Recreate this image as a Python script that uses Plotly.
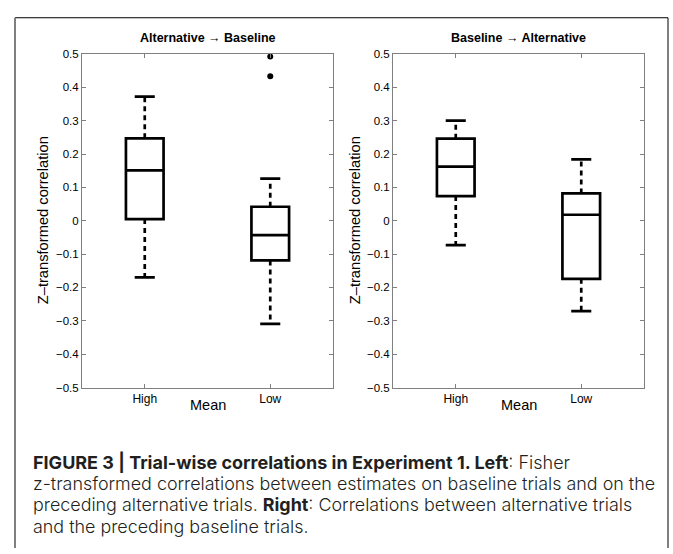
import plotly.graph_objects as go

# ---- data ----
categories = ["High", "Low"]
cat_pos = [1, 2]

left_title = "Alternative → Baseline"
left_lower = [-0.170, -0.309]
left_q1 = [0.005, -0.119]
left_median = [0.151, -0.043]
left_q3 = [0.247, 0.042]
left_upper = [0.372, 0.126]
left_outlier_cat = [2, 2]
left_outlier_val = [0.492, 0.433]

right_title = "Baseline → Alternative"
right_lower = [-0.073, -0.271]
right_q1 = [0.074, -0.174]
right_median = [0.162, 0.018]
right_q3 = [0.246, 0.082]
right_upper = [0.300, 0.184]
right_outlier_cat = []
right_outlier_val = []

y_ticks = [-0.5, -0.4, -0.3, -0.2, -0.1, 0, 0.1, 0.2, 0.3, 0.4, 0.5]
y_title = "Z–transformed correlation"
x_title = "Mean"

caption_lines = [
    "<b>FIGURE 3 | Trial-wise correlations in Experiment 1. Left</b>: Fisher",
    "z-transformed correlations between estimates on baseline trials and on the",
    "preceding alternative trials. <b>Right</b>: Correlations between alternative trials",
    "and the preceding baseline trials.",
]

# ---- layout constants ----
W, H = 673, 554
BOX_W = 0.30
CAP_HALF = 0.08
FONT = "Liberation Sans, Arial, Helvetica, sans-serif"
CAP_FONT = "Inter, Liberation Sans, sans-serif"


def px(x):
    return x / W


def py(y):
    return 1 - y / H


fig = go.Figure()


def add_panel(xa, ya, lower, q1, med, q3, upper, ocat, oval):
    fig.add_trace(go.Box(
        x=cat_pos, q1=q1, median=med, q3=q3,
        lowerfence=q1, upperfence=q3,
        width=BOX_W, whiskerwidth=0, boxpoints=False,
        line=dict(color="black", width=2.7), fillcolor="rgba(255,255,255,0)",
        xaxis=xa, yaxis=ya, showlegend=False, hoverinfo="skip",
    ))
    wx, wy, cx, cy = [], [], [], []
    for i, c in enumerate(cat_pos):
        wx += [c, c, None, c, c, None]
        wy += [q3[i], upper[i], None, q1[i], lower[i], None]
        cx += [c - CAP_HALF, c + CAP_HALF, None, c - CAP_HALF, c + CAP_HALF, None]
        cy += [upper[i], upper[i], None, lower[i], lower[i], None]
    fig.add_trace(go.Scatter(x=wx, y=wy, mode="lines", xaxis=xa, yaxis=ya,
                             line=dict(color="black", width=2.7, dash="5px,4px"),
                             showlegend=False, hoverinfo="skip"))
    fig.add_trace(go.Scatter(x=cx, y=cy, mode="lines", xaxis=xa, yaxis=ya,
                             line=dict(color="black", width=2.7),
                             showlegend=False, hoverinfo="skip"))
    if ocat:
        fig.add_trace(go.Scatter(x=ocat, y=oval, mode="markers", xaxis=xa, yaxis=ya,
                                 marker=dict(color="black", size=6),
                                 showlegend=False, hoverinfo="skip"))


add_panel("x", "y", left_lower, left_q1, left_median, left_q3, left_upper,
          left_outlier_cat, left_outlier_val)
add_panel("x2", "y2", right_lower, right_q1, right_median, right_q3, right_upper,
          right_outlier_cat, right_outlier_val)

ydom = [py(390), py(49)]
xdom1 = [px(82), px(333)]
xdom2 = [px(393), px(644)]

axis_common = dict(showgrid=False, zeroline=False, showline=True, linecolor="#7f7f7f",
                   linewidth=1, mirror="ticks", ticks="inside", ticklen=4,
                   tickcolor="#7f7f7f", tickfont=dict(family=FONT, size=11.5, color="black"))

xaxis_common = dict(axis_common, range=[0.5, 2.5], tickvals=cat_pos, ticktext=categories,
                    tickfont=dict(family=FONT, size=12, color="black"))
yaxis_common = dict(axis_common, range=[-0.5, 0.5], tickvals=y_ticks)

fig.update_layout(
    width=W, height=H,
    margin=dict(l=0, r=0, t=0, b=0),
    paper_bgcolor="white", plot_bgcolor="white",
    xaxis=dict(xaxis_common, domain=xdom1, anchor="y"),
    yaxis=dict(yaxis_common, domain=ydom, anchor="x"),
    xaxis2=dict(xaxis_common, domain=xdom2, anchor="y2"),
    yaxis2=dict(yaxis_common, domain=ydom, anchor="x2"),
    font=dict(family=FONT, color="black"),
)

ann = []
for dom, title, ytx in [(xdom1, left_title, 43), (xdom2, right_title, 355)]:
    cxp = (dom[0] + dom[1]) / 2
    ann.append(dict(x=cxp, y=py(33), xref="paper", yref="paper", text="<b>" + title + "</b>",
                    showarrow=False, font=dict(size=12.5, family=FONT, color="black"),
                    xanchor="center", yanchor="middle"))
    ann.append(dict(x=cxp, y=py(408), xref="paper", yref="paper", text=x_title,
                    showarrow=False, font=dict(size=14.5, family=FONT, color="black"),
                    xanchor="center", yanchor="middle"))
    ann.append(dict(x=px(ytx), y=py(219), xref="paper", yref="paper",
                    text=y_title, textangle=-90, showarrow=False,
                    font=dict(size=14.7, family=FONT, color="black"),
                    xanchor="center", yanchor="middle"))

cap_y = [466, 488, 510, 532]
cap_sizes = [18.0, 17.9, 17.9, 17.9]
for line, yy, sz in zip(caption_lines, cap_y, cap_sizes):
    ann.append(dict(x=px(31), y=py(yy), xref="paper", yref="paper", text=line,
                    showarrow=False,
                    font=dict(size=sz, family=CAP_FONT, color="#231f20", weight=300),
                    xanchor="left", yanchor="middle"))
fig.update_layout(annotations=ann)

# outer frame
fig.add_shape(type="line", xref="paper", yref="paper", x0=px(15), x1=px(668),
              y0=py(12), y1=py(12), line=dict(color="black", width=1))
fig.add_shape(type="line", xref="paper", yref="paper", x0=px(15), x1=px(15),
              y0=py(12), y1=0, line=dict(color="#7f7f7f", width=2))
fig.add_shape(type="line", xref="paper", yref="paper", x0=px(668), x1=px(668),
              y0=py(12), y1=0, line=dict(color="black", width=1))

fig.write_html("out.html", config={"displayModeBar": False},
               post_script="document.body.style.margin='0';document.body.style.overflow='hidden';")
